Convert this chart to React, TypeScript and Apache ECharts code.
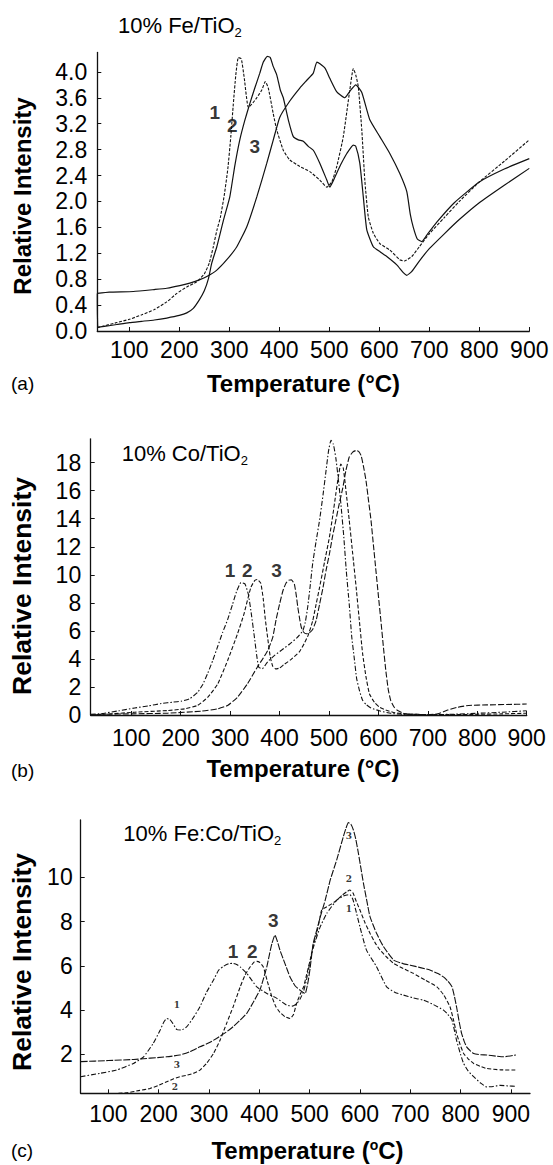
import React, { useEffect, useRef } from "react";
import * as echarts from "echarts";

// ---------- tick labels ----------
const xTicks = [100, 200, 300, 400, 500, 600, 700, 800, 900];
const yTicksA = [0, 0.4, 0.8, 1.2, 1.6, 2.0, 2.4, 2.8, 3.2, 3.6, 4.0];
const yTicksB = [0, 2, 4, 6, 8, 10, 12, 14, 16, 18];
const yTicksC = [2, 4, 6, 8, 10];

// ---------- (a) 10% Fe/TiO2 : [temperature °C, relative intensity] ----------
const feCurve1 = [
  [36, 0.05], [50, 0.08], [75, 0.13], [100, 0.18], [125, 0.25], [150, 0.33], [175, 0.45], [195, 0.58],
  [215, 0.68], [235, 0.76], [250, 0.88], [260, 1.05], [268, 1.3], [275, 1.55], [282, 1.75], [290, 2.1],
  [297, 2.5], [303, 3.0], [308, 3.5], [313, 3.95], [318, 4.22], [324, 4.2], [330, 3.9], [338, 3.45],
  [345, 3.5], [355, 3.6], [365, 3.72], [372, 3.85], [378, 3.75], [388, 3.35], [395, 3.1], [408, 2.79],
  [421, 2.64], [441, 2.54], [461, 2.46], [481, 2.33], [495, 2.22], [505, 2.3], [515, 2.54], [528, 3.0],
  [541, 3.72], [548, 4.05], [553, 3.95], [558, 3.77], [565, 3.1], [571, 2.33], [578, 1.76], [588, 1.51],
  [601, 1.35], [621, 1.25], [641, 1.1], [650, 1.08], [665, 1.15], [680, 1.3], [700, 1.5], [730, 1.75],
  [760, 2.0], [800, 2.3], [850, 2.62], [900, 2.95],
];
const feCurve2 = [
  [36, 0.58], [37, 0.06], [50, 0.07], [75, 0.1], [100, 0.13], [125, 0.15], [150, 0.17], [175, 0.2],
  [200, 0.24], [215, 0.28], [228, 0.35], [240, 0.48], [250, 0.62], [258, 0.8], [265, 1.05], [275, 1.3],
  [288, 1.7], [301, 2.07], [311, 2.55], [321, 2.95], [331, 3.25], [341, 3.51], [351, 3.75], [361, 3.98],
  [368, 4.15], [376, 4.24], [382, 4.22], [388, 4.08], [395, 3.95], [402, 3.72], [408, 3.6], [418, 3.26],
  [428, 3.0], [438, 2.95], [448, 2.93], [458, 2.85], [468, 2.79], [481, 2.59], [495, 2.33], [501, 2.22],
  [508, 2.32], [515, 2.44], [525, 2.6], [535, 2.74], [548, 2.87], [553, 2.85], [561, 2.59], [568, 2.07],
  [575, 1.56], [588, 1.3], [602, 1.22], [615, 1.15], [635, 1.02], [648, 0.9], [655, 0.86], [665, 0.92],
  [680, 1.08], [700, 1.27], [730, 1.5], [760, 1.72], [800, 1.98], [850, 2.25], [900, 2.51],
];
const feCurve3 = [
  [36, 0.58], [60, 0.6], [108, 0.61], [150, 0.64], [175, 0.66], [201, 0.7], [221, 0.74], [240, 0.79],
  [255, 0.84], [275, 0.94], [295, 1.1], [315, 1.3], [335, 1.61], [355, 2.07], [375, 2.59], [388, 2.95],
  [401, 3.3], [421, 3.55], [441, 3.75], [455, 3.87], [468, 3.98], [475, 4.15], [482, 4.12], [492, 4.05],
  [501, 3.9], [515, 3.69], [531, 3.6], [541, 3.7], [553, 3.8], [565, 3.68], [581, 3.26], [601, 3.0],
  [621, 2.74], [641, 2.43], [655, 2.15], [662, 1.8], [668, 1.6], [676, 1.42], [685, 1.38], [695, 1.48],
  [715, 1.68], [750, 1.98], [800, 2.3], [850, 2.5], [900, 2.66],
];

// ---------- (b) 10% Co/TiO2 ----------
const coCurve1 = [
  [18, 0.05], [40, 0.1], [75, 0.3], [107, 0.5], [135, 0.65], [161, 0.82], [185, 0.92], [201, 0.98],
  [218, 1.15], [234, 1.6], [245, 2.2], [255, 3.0], [265, 3.9], [275, 4.9], [285, 5.9], [295, 6.8],
  [305, 7.9], [313, 8.8], [322, 9.45], [330, 9.35], [337, 8.6], [343, 7.2], [349, 5.6], [354, 4.2],
  [358, 3.4], [365, 3.3], [376, 3.8], [390, 4.25], [405, 4.65], [420, 5.05], [435, 5.5], [447, 6.0],
  [452, 6.6], [457, 7.7], [462, 9.2], [467, 10.8], [474, 12.4], [481, 13.9], [488, 15.7], [494, 17.4],
  [499, 18.8], [504, 19.6], [509, 19.3], [514, 18.3], [519, 16.8], [524, 15.1], [530, 12.7], [535, 10.3],
  [541, 7.9], [546, 5.6], [551, 4.1], [556, 2.6], [562, 1.7], [568, 1.05], [575, 0.75], [585, 0.5],
  [602, 0.3], [625, 0.12], [650, 0.05], [700, 0.03], [750, 0.05], [800, 0.12], [850, 0.2], [900, 0.3],
];
const coCurve2 = [
  [18, 0.02], [50, 0.06], [107, 0.2], [174, 0.32], [208, 0.44], [234, 0.68], [255, 1.27], [275, 2.22],
  [295, 3.89], [315, 5.79], [328, 7.2], [342, 9.1], [350, 9.6], [355, 9.67], [362, 9.4], [367, 8.3],
  [371, 6.9], [376, 5.5], [381, 4.2], [386, 3.5], [392, 3.29], [400, 3.35], [409, 3.6], [423, 3.95],
  [440, 4.5], [450, 5.1], [458, 5.7], [467, 6.7], [474, 7.9], [481, 9.1], [491, 10.9], [501, 12.7],
  [508, 14.3], [514, 15.8], [519, 17.0], [524, 17.9], [529, 17.6], [535, 15.8], [541, 13.9], [548, 11.5],
  [555, 9.1], [561, 6.9], [568, 4.4], [575, 2.7], [582, 1.5], [592, 0.9], [602, 0.56], [615, 0.35],
  [629, 0.2], [650, 0.08], [700, 0.03], [750, 0.03], [800, 0.05], [850, 0.08], [900, 0.13],
];
const coCurve3 = [
  [18, 0.0], [40, 0.05], [100, 0.08], [174, 0.13], [241, 0.27], [275, 0.44], [295, 0.68], [315, 1.27],
  [335, 2.22], [355, 3.41], [365, 3.95], [376, 4.6], [386, 5.5], [393, 6.8], [400, 7.9], [407, 8.88],
  [413, 9.4], [419, 9.62], [424, 9.64], [430, 9.34], [434, 8.5], [437, 7.68], [441, 6.8], [444, 6.26],
  [449, 5.9], [454, 5.79], [460, 5.85], [467, 6.1], [474, 6.74], [481, 7.9], [488, 9.1], [494, 10.3],
  [501, 11.5], [507, 12.7], [514, 13.9], [521, 15.1], [528, 16.2], [534, 17.4], [541, 18.4], [548, 18.75],
  [555, 18.87], [560, 18.8], [565, 18.5], [570, 17.7], [575, 16.7], [580, 15.3], [585, 13.9], [590, 12.1],
  [595, 10.3], [600, 8.5], [605, 6.74], [610, 4.9], [615, 3.17], [620, 1.8], [625, 1.03], [632, 0.55],
  [639, 0.32], [655, 0.08], [700, 0.03], [720, 0.08], [740, 0.35], [760, 0.55], [783, 0.68], [820, 0.72],
  [860, 0.75], [900, 0.78],
];

// ---------- (c) 10% Fe:Co/TiO2 ----------
const fecoCurve1 = [
  [45, 0.99], [83, 1.14], [116, 1.29], [150, 1.59], [170, 1.89], [189, 2.49], [203, 3.1], [210, 3.45],
  [216, 3.62], [222, 3.58], [228, 3.4], [236, 3.12], [245, 3.1], [256, 3.25], [270, 3.7], [282, 4.15],
  [295, 4.8], [309, 5.36], [319, 5.8], [329, 5.98], [340, 6.1], [348, 6.11], [356, 6.05], [362, 5.95],
  [375, 5.66], [395, 5.05], [415, 4.75], [435, 4.53], [454, 4.23], [466, 4.18], [474, 4.28], [481, 4.5],
  [488, 4.85], [494, 5.4], [500, 6.1], [507, 6.8], [514, 7.3], [521, 7.76], [534, 8.37], [554, 8.97],
  [567, 9.15], [574, 9.2], [580, 9.22], [586, 9.0], [593, 8.4], [600, 7.76], [613, 6.71], [633, 5.96],
  [653, 5.05], [670, 4.8], [686, 4.68], [706, 4.55], [726, 4.45], [746, 4.25], [766, 4.0], [775, 3.8],
  [783, 3.55], [792, 2.64], [800, 2.0], [806, 1.59], [815, 1.25], [826, 0.99], [840, 0.7], [852, 0.53],
  [865, 0.55], [879, 0.6], [895, 0.57], [910, 0.56],
];
const fecoCurve2 = [
  [120, 0.24], [136, 0.26], [160, 0.36], [183, 0.46], [200, 0.6], [216, 0.76], [230, 0.9], [242, 0.99],
  [255, 1.05], [269, 1.14], [282, 1.29], [295, 1.59], [309, 2.04], [322, 2.64], [335, 3.4], [348, 4.15],
  [362, 5.05], [372, 5.6], [382, 5.96], [390, 6.18], [395, 6.2], [401, 6.15], [408, 5.95], [416, 5.3],
  [425, 4.6], [433, 4.15], [441, 3.9], [451, 3.7], [461, 3.62], [468, 3.8], [474, 4.3], [481, 4.7],
  [488, 5.05], [494, 5.6], [501, 6.26], [507, 6.9], [514, 7.47], [519, 8.0], [524, 8.52], [534, 8.67],
  [544, 8.8], [554, 8.97], [565, 9.2], [574, 9.35], [580, 9.43], [586, 9.3], [593, 8.9], [600, 8.52],
  [610, 7.95], [620, 7.47], [630, 7.05], [640, 6.71], [653, 6.4], [667, 6.11], [686, 5.88], [706, 5.66],
  [730, 5.35], [753, 5.05], [766, 4.7], [779, 4.15], [786, 3.55], [792, 2.95], [799, 2.45], [806, 2.04],
  [815, 1.8], [826, 1.59], [840, 1.45], [852, 1.36], [880, 1.3], [910, 1.29],
];
const fecoCurve3 = [
  [45, 1.67], [100, 1.72], [150, 1.77], [216, 1.89], [242, 1.97], [262, 2.12], [282, 2.34], [300, 2.52],
  [315, 2.72], [332, 2.97], [348, 3.25], [362, 3.55], [375, 3.85], [388, 4.35], [401, 4.9], [408, 5.4],
  [415, 5.96], [420, 6.5], [425, 7.0], [431, 7.39], [436, 7.1], [441, 6.71], [451, 6.1], [461, 5.5],
  [471, 5.1], [481, 4.9], [491, 4.75], [497, 5.3], [501, 5.9], [507, 7.0], [514, 7.6], [521, 8.2],
  [531, 8.97], [541, 9.88], [554, 10.8], [567, 11.84], [572, 12.2], [577, 12.47], [582, 12.4], [587, 12.14],
  [592, 11.7], [597, 11.08], [602, 10.4], [607, 9.73], [614, 8.9], [620, 8.22], [633, 7.47], [647, 6.86],
  [667, 6.26], [686, 6.1], [700, 6.03], [720, 5.92], [739, 5.81], [755, 5.65], [766, 5.5], [775, 5.3],
  [783, 5.05], [788, 4.6], [792, 4.15], [797, 3.5], [802, 2.95], [807, 2.6], [812, 2.34], [820, 2.15],
  [826, 2.04], [840, 1.98], [852, 1.97], [870, 1.92], [885, 1.89], [910, 1.97],
];

// ---------- curve annotations: [temperature, intensity, text] ----------
const labelsA = [[271, 3.38, "1"], [306, 3.17, "2"], [351, 2.84, "3"]];
const labelsB = [[300, 10.3, "1"], [335, 10.3, "2"], [394, 10.3, "3"]];
const labelsC = [[348, 6.63, "1"], [386, 6.63, "2"], [428, 8.07, "3"]];
const smallLabelsC = [
  [236, 4.23, "1"], [236, 1.51, "3"], [232, 0.53, "2"],
  [578, 11.86, "3"], [578, 9.92, "2"], [578, 8.55, "1"],
];

const FONT = "'Liberation Sans', Arial, Helvetica, sans-serif";
const INK = "#111";

export default function App() {
  const ref = useRef<HTMLDivElement>(null);

  useEffect(() => {
    document.body.style.margin = "0";
    const chart = echarts.init(ref.current!, null, { renderer: "svg" });

    const grids = [
      { left: 97.3, right: 23.7, top: 52.4, bottom: 834 },
      { left: 90.7, right: 26.3, top: 438.8, bottom: 450 },
      { left: 80.7, right: 23, top: 820, bottom: 71.7 },
    ];
    const xRanges = [[36, 900], [18, 900], [45, 938]];
    const yRanges = [[0, 4.3], [0, 19.7], [0.24, 12.59]];
    const yTickSets = [yTicksA, yTicksB, yTicksC];
    const xMargins = [7, 11, 9];
    const yMargins = [10, 9.5, 8];

    const axisLine = { show: true, lineStyle: { color: INK, width: 1.3 } };

    const xAxis = grids.map((_, i) => ({
      type: "value",
      gridIndex: i,
      min: xRanges[i][0],
      max: xRanges[i][1],
      axisLine,
      axisTick: { show: true, inside: true, length: 4, customValues: xTicks, lineStyle: { color: INK } },
      axisLabel: {
        customValues: xTicks,
        fontSize: 23,
        color: "#000",
        fontFamily: FONT,
        margin: xMargins[i],
      },
      splitLine: { show: false },
    }));

    const yAxis = grids.map((_, i) => ({
      type: "value",
      gridIndex: i,
      min: yRanges[i][0],
      max: yRanges[i][1],
      axisLine,
      axisTick: { show: true, inside: true, length: 4, customValues: yTickSets[i], lineStyle: { color: INK } },
      axisLabel: {
        customValues: yTickSets[i],
        fontSize: 23,
        color: "#000",
        fontFamily: FONT,
        margin: yMargins[i],
        formatter: (v: number) => (i === 0 ? v.toFixed(1) : String(Math.round(v))),
      },
      splitLine: { show: false },
    }));

    const lineSeries = (data: number[][], idx: number, type: any, width = 1.1) => ({
      type: "line",
      xAxisIndex: idx,
      yAxisIndex: idx,
      data,
      showSymbol: false,
      symbol: "none",
      smooth: 0.15,
      lineStyle: { color: INK, width, type },
      silent: true,
    });

    const labelSeries = (items: any[], idx: number, size: number, family = FONT) => ({
      type: "scatter",
      xAxisIndex: idx,
      yAxisIndex: idx,
      symbolSize: 0,
      silent: true,
      data: items.map((d) => ({ value: [d[0], d[1]], name: d[2] })),
      label: {
        show: true,
        position: "inside",
        formatter: "{b}",
        fontSize: size,
        fontWeight: "bold",
        color: "#000",
        textBorderWidth: 0,
        fontFamily: family,
      },
    });

    const series = [
      lineSeries(feCurve1, 0, [3, 1.5]),
      lineSeries(feCurve2, 0, "solid", 1.2),
      lineSeries(feCurve3, 0, "solid", 1.2),
      lineSeries(coCurve1, 1, [5, 2, 1.5, 2]),
      lineSeries(coCurve2, 1, [4, 2]),
      lineSeries(coCurve3, 1, [6, 2]),
      lineSeries(fecoCurve1, 2, [5, 2, 1.5, 2]),
      lineSeries(fecoCurve2, 2, [4, 2]),
      lineSeries(fecoCurve3, 2, [7, 1.5]),
      labelSeries(labelsA, 0, 19),
      labelSeries(labelsB, 1, 19),
      labelSeries(labelsC, 2, 19),
      labelSeries(smallLabelsC, 2, 9, "'DejaVu Serif', serif"),
    ];

    const titleRich = {
      m: { fontSize: 22, fontFamily: FONT, color: "#000", lineHeight: 28 },
      s: { fontSize: 13, fontFamily: FONT, color: "#000", lineHeight: 13, verticalAlign: "bottom" },
    };
    const xTitleRich = {
      m: { fontSize: 24, fontWeight: "bold", fontFamily: FONT, color: "#000", lineHeight: 24 },
      sup: { fontSize: 14, fontWeight: "bold", fontFamily: FONT, color: "#000", lineHeight: 12, verticalAlign: "top" },
    };

    const txt = (x: number, y: number, text: string, style: any, extra: any = {}) => ({
      type: "text",
      x,
      y,
      silent: true,
      ...extra,
      style: { text, fill: "#000", fontFamily: FONT, verticalAlign: "middle", ...style },
    });

    const graphic = [
      // panel titles
      txt(118, 25, "{m|10% Fe/TiO}{s|2}", { rich: titleRich, align: "left" }),
      txt(121.7, 453, "{m|10% Co/TiO}{s|2}", { rich: titleRich, align: "left" }),
      txt(123.3, 833, "{m|10% Fe:Co/TiO}{s|2}", { rich: titleRich, align: "left" }),
      // y titles
      txt(22, 196, "Relative Intensity", { fontSize: 24, fontWeight: "bold", align: "center" }, { rotation: Math.PI / 2 }),
      txt(22, 586, "Relative Intensity", { fontSize: 26.5, fontWeight: "bold", align: "center" }, { rotation: Math.PI / 2 }),
      txt(22, 962, "Relative Intensity", { fontSize: 26.5, fontWeight: "bold", align: "center" }, { rotation: Math.PI / 2 }),
      // x titles
      txt(303.5, 383, "Temperature (°C)", { fontSize: 24, fontWeight: "bold", align: "center" }),
      txt(303, 768, "Temperature (°C)", { fontSize: 24, fontWeight: "bold", align: "center" }),
      txt(307.5, 1150, "{m|Temperature (}{sup|o}{m|C)}", { rich: xTitleRich, align: "center" }),
      // panel letters
      txt(11, 383, "(a)", { fontSize: 19, align: "left" }),
      txt(11, 770, "(b)", { fontSize: 19, align: "left" }),
      txt(11, 1150, "(c)", { fontSize: 19, align: "left" }),
    ];

    chart.setOption({
      animation: false,
      backgroundColor: "#fff",
      grid: grids,
      xAxis,
      yAxis,
      series,
      graphic,
    });

    return () => chart.dispose();
  }, []);

  return <div ref={ref} style={{ width: 553, height: 1165 }} />;
}
